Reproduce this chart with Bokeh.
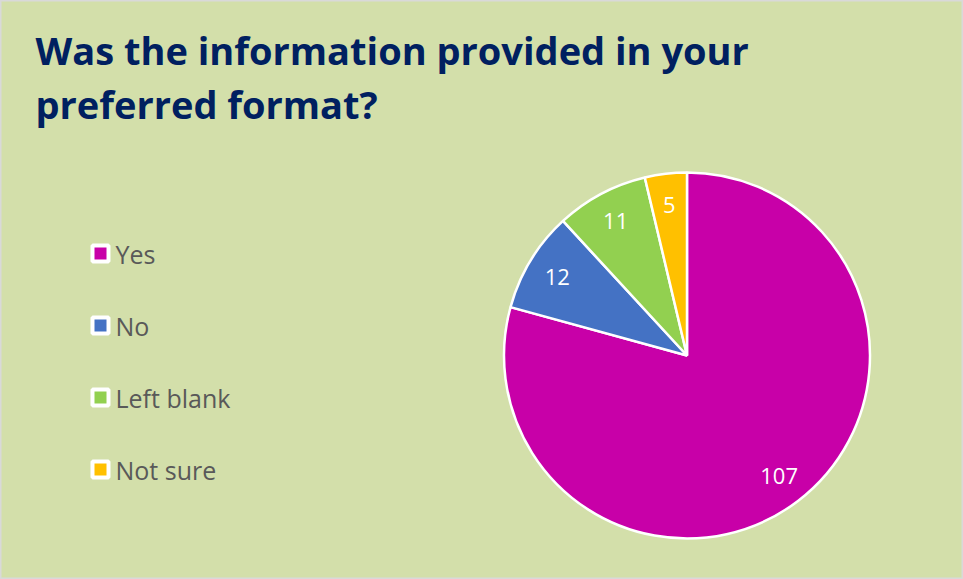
import math
from bokeh.plotting import figure
from bokeh.models import ColumnDataSource, Range1d
from bokeh.core.properties import value
from bokeh.embed import file_html
from bokeh.resources import INLINE

# ---- data ----
categories = ["Yes", "No", "Left blank", "Not sure"]
counts = [107, 12, 11, 5]
colors = ["#C800A8", "#4472C4", "#92D050", "#FFC000"]
title_lines = ["Was the information provided in your", "preferred format?"]

W, H = 963, 579
BG = "#D3DFAA"

p = figure(width=W, height=H, output_backend="svg", toolbar_location=None,
           x_range=Range1d(0, W), y_range=Range1d(0, H), min_border=0,
           background_fill_color=BG, border_fill_color=BG)
p.axis.visible = False
p.grid.visible = False
p.outline_line_color = "#D9D9D9"
p.outline_line_width = 2

# ---- pie ----
cx, cy, r = 686.5, 224.0, 183.0
total = float(sum(counts))
starts, ends, lx, ly, txt = [], [], [], [], []
cum = 0.0
for c in counts:
    a0 = math.pi / 2 - 2 * math.pi * cum / total
    cum += c
    a1 = math.pi / 2 - 2 * math.pi * cum / total
    starts.append(a0)
    ends.append(a1)
    mid = (a0 + a1) / 2
    lx.append(cx + 0.83 * r * math.cos(mid))
    ly.append(cy + 0.83 * r * math.sin(mid))
    txt.append(str(c))

src = ColumnDataSource(dict(start=starts, end=ends, color=colors,
                            x=[cx] * len(counts), y=[cy] * len(counts)))
p.wedge(x="x", y="y", radius=r, start_angle="start", end_angle="end",
        direction="clock", fill_color="color", line_color="white",
        line_width=2.5, source=src)

p.text(x=lx, y=ly, text=txt, text_color="white", text_align="center",
       text_baseline="middle", text_font=value("Open Sans"),
       text_font_size="22px")

# ---- title ----
p.text(x=[35, 35], y=[530, 476], text=title_lines, text_color="#002060",
       text_font=value("Open Sans"), text_font_style="bold",
       text_font_size="38px", text_baseline="alphabetic", text_align="left")

# ---- legend ----
leg_y = [326 - 72 * i for i in range(len(categories))]
p.scatter(x=[100] * len(categories), y=leg_y, marker="square", size=16,
          fill_color=colors, line_color="white", line_width=4)
p.text(x=[115] * len(categories), y=leg_y, text=categories,
       text_color="#595959", text_font=value("Open Sans"),
       text_font_size="25px", text_baseline="middle", text_align="left")

open("out.html", "w").write(file_html(p, INLINE))
